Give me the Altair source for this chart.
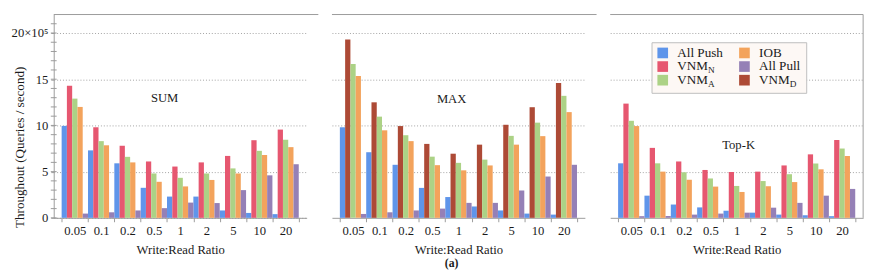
import altair as alt
import pandas as pd

# ---------------- data ----------------
ratios = ["0.05", "0.1", "0.2", "0.5", "1", "2", "5", "10", "20"]
panel_names = ["SUM", "MAX", "Top-K"]
series_order = ["All Push", "VNM_N", "VNM_A", "IOB", "All Pull", "VNM_D"]
series_colors = ["#5f95ea", "#e65770", "#acd286", "#f3a35c", "#9580b6", "#ad4a36"]

# values in units of 10^5 queries / second
sum_all_push = [9.95, 7.3, 5.9, 3.25, 2.3, 2.3, 0.8, 0.53, 0.4]
sum_vnm_n = [14.3, 9.8, 7.8, 6.1, 5.55, 6.0, 6.7, 8.4, 9.55]
sum_vnm_a = [12.9, 8.3, 6.6, 4.8, 4.33, 4.8, 5.35, 7.25, 8.45]
sum_iob = [12.0, 7.85, 6.0, 3.9, 3.4, 4.1, 4.8, 6.8, 7.65]
sum_all_pull = [0.46, 0.6, 0.8, 1.05, 1.65, 1.6, 3.0, 4.6, 5.8]

max_all_push = [9.8, 7.1, 5.74, 3.24, 2.25, 1.23, 0.8, 0.46, 0.35]
max_vnm_d = [19.3, 12.5, 9.93, 8.0, 6.94, 7.92, 10.07, 11.97, 14.58]
max_vnm_a = [16.65, 10.95, 8.94, 6.62, 5.95, 6.3, 8.87, 10.3, 13.2]
max_iob = [15.35, 9.47, 8.3, 5.7, 5.14, 5.67, 7.92, 8.84, 11.44]
max_all_pull = [0.42, 0.6, 0.8, 1.0, 1.62, 1.62, 2.96, 4.47, 5.74]

topk_all_push = [5.9, 2.4, 1.44, 1.13, 0.77, 0.56, 0.35, 0.28, 0.18]
topk_vnm_n = [12.36, 7.57, 6.1, 5.18, 4.96, 5.0, 5.67, 6.87, 8.42]
topk_vnm_a = [10.5, 5.9, 4.93, 4.26, 3.45, 3.98, 4.72, 5.88, 7.5]
topk_iob = [9.93, 5.0, 4.12, 3.38, 2.8, 3.42, 3.87, 5.25, 6.69]
topk_all_pull = [0.18, 0.2, 0.35, 0.46, 0.56, 1.1, 1.62, 2.4, 3.13]

minor_tick_values = list(range(0, 22))
major_values = [0, 5, 10, 15, 20]
grid_values = [5, 10, 15, 20]

legend_series = ["All Push", "VNM_N", "VNM_A", "IOB", "All Pull", "VNM_D"]
legend_main = ["All Push", "VNM", "VNM", "IOB", "All Pull", "VNM"]
legend_sub = ["", "N", "A", "", "", "D"]
legend_col = [0, 0, 0, 1, 1, 1]
legend_row = [0, 1, 2, 0, 1, 2]

panel_series = {
    "SUM": [("All Push", sum_all_push), ("VNM_N", sum_vnm_n), ("VNM_A", sum_vnm_a),
            ("IOB", sum_iob), ("All Pull", sum_all_pull)],
    "MAX": [("All Push", max_all_push), ("VNM_D", max_vnm_d), ("VNM_A", max_vnm_a),
            ("IOB", max_iob), ("All Pull", max_all_pull)],
    "Top-K": [("All Push", topk_all_push), ("VNM_N", topk_vnm_n), ("VNM_A", topk_vnm_a),
              ("IOB", topk_iob), ("All Pull", topk_all_pull)],
}

rows = []
for p, lst in panel_series.items():
    for slot, (s, vals) in enumerate(lst):
        for r, v in zip(ratios, vals):
            rows.append(dict(panel=p, ratio=r, slot=slot, series=s, value=v))
df = pd.DataFrame(rows)

legend_df = pd.DataFrame(dict(series=legend_series, main=legend_main, sub=legend_sub,
                              col=legend_col, row=legend_row))

# ---------------- layout / style ----------------
W, H, S = 260, 209, 12
FONT = "Liberation Serif, DejaVu Serif, serif"
TXT = "#1a1a1a"
GRID = "#a0a0a0"
AXC = "#9a9a9a"
label_pos = {"SUM": (114, 86), "MAX": (123, 87), "Top-K": (132, 134)}

color_scale = alt.Scale(domain=series_order, range=series_colors)


def panel_chart(name, idx):
    base = alt.Chart(df).transform_filter(alt.datum.panel == name)
    if idx == 0:
        yaxis = alt.Axis(
            values=major_values,
            labelExpr="datum.value == 20 ? '20×10⁵' : datum.label",
            grid=True, gridDash=[1, 2], gridColor=GRID, gridWidth=1,
            tickSize=3, tickColor=AXC, domainColor=AXC,
            labelPadding=3, labelFontSize=13, labelColor=TXT, labelFont=FONT,
            title="Throughout (Queries / second)", titleFontSize=13.5, titleFont=FONT,
            titleX=-28, titleY=136, titleColor=TXT, titleFontWeight="normal",
        )
    else:
        yaxis = alt.Axis(values=grid_values, labels=False, ticks=False, domain=False,
                         grid=True, gridDash=[1, 2], gridColor=GRID, gridWidth=1, title=None)

    bars = base.mark_bar().encode(
        x=alt.X("ratio:N", sort=ratios,
                scale=alt.Scale(paddingInner=0, paddingOuter=0.3),
                axis=alt.Axis(title="Write:Read Ratio", labelAngle=0, tickBand="extent",
                              tickSize=4, tickColor=AXC, domainColor=AXC,
                              labelFontSize=13, labelColor=TXT, labelPadding=3, labelFont=FONT,
                              titleFontSize=13, titleColor=TXT, titleFontWeight="normal",
                              titleFont=FONT, titlePadding=7)),
        xOffset=alt.XOffset("slot:O", scale=alt.Scale(paddingInner=0, paddingOuter=0)),
        y=alt.Y("value:Q", scale=alt.Scale(domain=[0, 22], nice=False), axis=yaxis),
        color=alt.Color("series:N", scale=color_scale, legend=None),
    )
    layers = [bars]

    if idx == 0:
        # minor ticks crossing the left axis line (same field name as bars -> shared axis)
        minor = alt.Chart(pd.DataFrame({"value": minor_tick_values})).mark_rule(
            color=AXC, strokeWidth=1).encode(
            y=alt.Y("value:Q"), x=alt.value(-3), x2=alt.value(3))
        layers.append(minor)

    # top frame line (extends across the gap to the next panel)
    x2 = W + S if idx < 2 else W
    top = alt.Chart(pd.DataFrame({"k": [0]})).mark_rule(color=AXC, strokeWidth=1).encode(
        x=alt.value(0), x2=alt.value(x2), y=alt.value(0))
    layers.append(top)

    if idx == 2:
        right = alt.Chart(pd.DataFrame({"k": [0]})).mark_rule(color=AXC, strokeWidth=1).encode(
            x=alt.value(W), y=alt.value(0), y2=alt.value(H))
        layers.append(right)

    lx, ly = label_pos[name]
    plabel = alt.Chart(pd.DataFrame({"t": [name]})).mark_text(
        font=FONT, fontSize=13, color=TXT, align="center", baseline="middle").encode(
        text="t:N", x=alt.value(lx), y=alt.value(ly))
    layers.append(plabel)

    if idx == 1:
        sub = alt.Chart(pd.DataFrame({"t": ["(a)"]})).mark_text(
            font=FONT, fontSize=12, fontWeight="bold", color=TXT, align="center",
            baseline="middle").encode(text="t:N", x=alt.value(123), y=alt.value(256))
        layers.append(sub)

    if idx == 2:
        box = alt.Chart(pd.DataFrame({"k": [0]})).mark_rect(
            fill="#fdf8f5", stroke="#bdbdbd", strokeWidth=1).encode(
            x=alt.value(43), x2=alt.value(202), y=alt.value(29), y2=alt.value(81))
        lxs = alt.Scale(domain=[0, 1], range=[54, 138])
        lys = alt.Scale(domain=[0, 2], range=[39.5, 67.5])
        lg = alt.Chart(legend_df)
        sym = lg.mark_square(size=120, opacity=1).encode(
            x=alt.X("col:Q", scale=lxs, axis=None),
            y=alt.Y("row:Q", scale=lys, axis=None),
            color=alt.Color("series:N", scale=color_scale, legend=None))
        ltxt = lg.mark_text(font=FONT, fontSize=13.5, color=TXT, align="left",
                            baseline="middle", dx=15).encode(
            x=alt.X("col:Q", scale=lxs, axis=None),
            y=alt.Y("row:Q", scale=lys, axis=None),
            text="main:N")
        lsub = lg.mark_text(font=FONT, fontSize=9.5, color=TXT, align="left",
                            baseline="middle", dx=46.5, dy=4).encode(
            x=alt.X("col:Q", scale=lxs, axis=None),
            y=alt.Y("row:Q", scale=lys, axis=None),
            text="sub:N")
        layers += [box, sym, ltxt, lsub]
        return alt.layer(*layers).resolve_scale(x="independent", y="independent").properties(
            width=W, height=H)

    return alt.layer(*layers).properties(width=W, height=H)


chart = alt.hconcat(
    *[panel_chart(n, i) for i, n in enumerate(panel_names)], spacing=S
).resolve_scale(y="independent").properties(
    padding={"left": 3, "top": 2, "right": 4, "bottom": 0}
).configure(font=FONT).configure_view(stroke=None)

chart.save("out.html", embed_options={"renderer": "svg", "actions": False})
